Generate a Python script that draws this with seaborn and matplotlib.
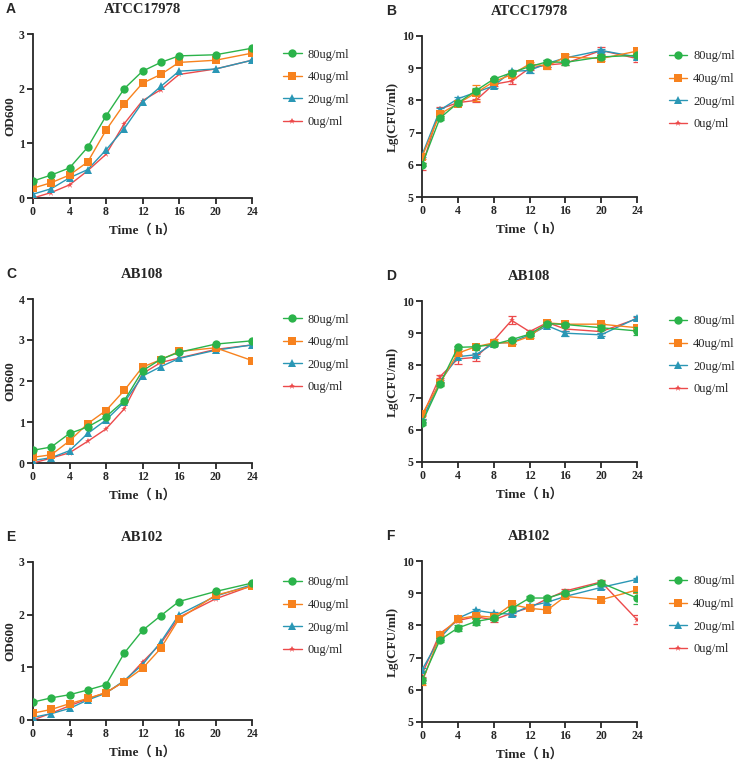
import numpy as np
import pandas as pd
import seaborn as sns
import matplotlib.pyplot as plt


hours = [0, 2, 4, 6, 8, 10, 12, 14, 16, 20, 24]
doses = ["80ug/ml", "40ug/ml", "20ug/ml", "0ug/ml"]

# A: ATCC17978, OD600
A_80 = [0.31, 0.42, 0.55, 0.93, 1.50, 2.00, 2.32, 2.48, 2.60, 2.62, 2.74]
A_40 = [0.18, 0.28, 0.42, 0.66, 1.24, 1.72, 2.10, 2.26, 2.48, 2.52, 2.65]
A_20 = [0.07, 0.17, 0.37, 0.52, 0.88, 1.27, 1.75, 2.04, 2.32, 2.36, 2.52]
A_0 = [0.00, 0.10, 0.24, 0.50, 0.80, 1.36, 1.78, 1.98, 2.26, 2.36, 2.52]

# B: ATCC17978, Lg(CFU/ml)
B_80 = [6.00, 7.45, 7.92, 8.30, 8.66, 8.86, 9.05, 9.20, 9.18, 9.35, 9.40]
B_40 = [6.25, 7.58, 7.90, 8.23, 8.58, 8.80, 9.13, 9.07, 9.35, 9.30, 9.53]
B_20 = [6.30, 7.70, 8.05, 8.25, 8.45, 8.90, 8.93, 9.15, 9.32, 9.55, 9.35]
B_0 = [5.95, 7.73, 7.93, 8.00, 8.50, 8.60, 9.00, 9.10, 9.15, 9.55, 9.30]
B_80_err = [0.05, 0.05, 0.05, 0.08, 0.05, 0.05, 0.05, 0.05, 0.08, 0.05, 0.05]
B_40_err = [0.08, 0.05, 0.05, 0.25, 0.05, 0.08, 0.05, 0.10, 0.10, 0.08, 0.05]
B_20_err = [0.05, 0.05, 0.05, 0.05, 0.05, 0.05, 0.08, 0.10, 0.05, 0.05, 0.05]
B_0_err = [0.10, 0.05, 0.05, 0.05, 0.05, 0.10, 0.05, 0.05, 0.05, 0.10, 0.12]

# C: AB108, OD600
C_80 = [0.31, 0.39, 0.72, 0.88, 1.13, 1.52, 2.25, 2.53, 2.70, 2.90, 2.98]
C_40 = [0.14, 0.20, 0.54, 0.96, 1.28, 1.77, 2.34, 2.52, 2.72, 2.81, 2.50]
C_20 = [0.06, 0.13, 0.30, 0.72, 1.05, 1.48, 2.12, 2.35, 2.55, 2.75, 2.88]
C_0 = [0.00, 0.12, 0.25, 0.53, 0.83, 1.32, 2.18, 2.45, 2.56, 2.77, 2.88]

# D: AB108, Lg(CFU/ml)
D_80 = [6.22, 7.42, 8.56, 8.58, 8.65, 8.80, 8.97, 9.30, 9.27, 9.17, 9.07]
D_40 = [6.48, 7.45, 8.38, 8.58, 8.70, 8.70, 8.90, 9.32, 9.28, 9.28, 9.17]
D_20 = [6.30, 7.50, 8.27, 8.33, 8.68, 8.72, 8.95, 9.23, 9.00, 8.95, 9.47]
D_0 = [6.40, 7.65, 8.20, 8.25, 8.77, 9.40, 9.05, 9.33, 9.13, 9.05, 9.45]
D_80_err = [0.08, 0.05, 0.05, 0.05, 0.05, 0.05, 0.05, 0.05, 0.05, 0.08, 0.12]
D_40_err = [0.05, 0.05, 0.05, 0.05, 0.05, 0.05, 0.05, 0.05, 0.05, 0.05, 0.05]
D_20_err = [0.05, 0.05, 0.05, 0.05, 0.05, 0.05, 0.05, 0.05, 0.08, 0.05, 0.05]
D_0_err = [0.05, 0.05, 0.15, 0.10, 0.05, 0.12, 0.05, 0.05, 0.05, 0.05, 0.05]

# E: AB102, OD600
E_80 = [0.34, 0.42, 0.48, 0.57, 0.67, 1.27, 1.70, 1.98, 2.25, 2.44, 2.60]
E_40 = [0.13, 0.20, 0.31, 0.41, 0.52, 0.73, 0.98, 1.36, 1.92, 2.37, 2.54]
E_20 = [0.05, 0.12, 0.22, 0.38, 0.51, 0.75, 1.05, 1.48, 2.00, 2.35, 2.57]
E_0 = [0.00, 0.13, 0.27, 0.40, 0.52, 0.73, 1.10, 1.45, 1.95, 2.30, 2.55]

# F: AB102, Lg(CFU/ml)
F_80 = [6.30, 7.55, 7.92, 8.12, 8.22, 8.52, 8.85, 8.85, 9.02, 9.32, 8.85]
F_40 = [6.23, 7.70, 8.20, 8.30, 8.25, 8.65, 8.53, 8.48, 8.90, 8.80, 9.10]
F_20 = [6.62, 7.60, 8.22, 8.47, 8.38, 8.35, 8.60, 8.72, 8.90, 9.18, 9.43]
F_0 = [6.48, 7.75, 8.15, 8.27, 8.17, 8.38, 8.55, 8.83, 9.07, 9.35, 8.18]
F_80_err = [0.08, 0.05, 0.10, 0.10, 0.05, 0.05, 0.05, 0.05, 0.05, 0.05, 0.20]
F_40_err = [0.08, 0.05, 0.05, 0.05, 0.05, 0.05, 0.05, 0.05, 0.05, 0.05, 0.05]
F_20_err = [0.05, 0.05, 0.08, 0.05, 0.05, 0.05, 0.08, 0.05, 0.05, 0.05, 0.05]
F_0_err = [0.08, 0.05, 0.05, 0.05, 0.05, 0.05, 0.05, 0.05, 0.05, 0.05, 0.15]


colors = ["#2bb34a", "#f7821e", "#2a97b5", "#ec4a4b"]
markers = ["o", "s", "^", "*"]
msizes = [6, 6, 6, 5]

sns.set_style("ticks")
plt.rcParams["font.family"] = ["Liberation Serif", "Noto Sans CJK SC"]
plt.rcParams["font.weight"] = "bold"
plt.rcParams["axes.labelweight"] = "bold"
plt.rcParams["axes.titleweight"] = "bold"

fig = plt.figure(figsize=(7.36, 7.64), dpi=100)
W, H = 736, 764


def make_ax(left, top, right, bottom):
    return fig.add_axes([left / W, 1 - bottom / H, (right - left) / W, (bottom - top) / H])


panels = [
    ("A", "ATCC17978", "OD600", [A_80, A_40, A_20, A_0], None, (33, 34, 252, 198), (0, 3)),
    ("B", "ATCC17978", "Lg(CFU/ml)", [B_80, B_40, B_20, B_0], [B_80_err, B_40_err, B_20_err, B_0_err], (422, 36, 637, 197), (5, 10)),
    ("C", "AB108", "OD600", [C_80, C_40, C_20, C_0], None, (33, 299, 252, 463), (0, 4)),
    ("D", "AB108", "Lg(CFU/ml)", [D_80, D_40, D_20, D_0], [D_80_err, D_40_err, D_20_err, D_0_err], (422, 301, 637, 462), (5, 10)),
    ("E", "AB102", "OD600", [E_80, E_40, E_20, E_0], None, (33, 562, 252, 720), (0, 3)),
    ("F", "AB102", "Lg(CFU/ml)", [F_80, F_40, F_20, F_0], [F_80_err, F_40_err, F_20_err, F_0_err], (422, 561, 637, 722), (5, 10)),
]

for letter, title, ylabel, series, errs, box, ylim in panels:
    ax = make_ax(*box)
    rows = []
    for dose, vals in zip(doses, series):
        for h, v in zip(hours, vals):
            rows.append({"Time": h, "val": v, "dose": dose})
    df = pd.DataFrame(rows)
    # lowest dose first so the 80 series lands on top
    for i in [3, 2, 1, 0]:
        sub = df[df["dose"] == doses[i]]
        if errs is not None:
            ax.errorbar(hours, series[i], yerr=errs[i], fmt="none", ecolor=colors[i],
                        elinewidth=0.9, capsize=3, capthick=0.9, zorder=2 + (3 - i))
        sns.lineplot(data=sub, x="Time", y="val", ax=ax, color=colors[i], marker=markers[i],
                     markersize=msizes[i], markeredgewidth=0, linewidth=1.0, label=doses[i],
                     zorder=3 + (3 - i))
    ax.set_xlim(0, 24)
    ax.set_ylim(*ylim)
    ax.set_xticks([0, 4, 8, 12, 16, 20, 24])
    ax.set_yticks(np.arange(ylim[0], ylim[1] + 1, 1))
    ax.tick_params(labelsize=8.5, width=1.3, length=4, direction="out", pad=2)
    for lab in ax.get_xticklabels() + ax.get_yticklabels():
        lab.set_fontweight("bold")
    for side in ["left", "bottom"]:
        ax.spines[side].set_linewidth(1.3)
    sns.despine(ax=ax)
    ax.set_title(title, fontsize=10.5, fontweight="bold", pad=15)
    ax.set_ylabel(ylabel, fontsize=9.5, fontweight="bold", labelpad=2)
    ax.set_xlabel("Time（ h）", fontsize=9.5, fontweight="bold", labelpad=4)
    handles, labels = ax.get_legend_handles_labels()
    order = [labels.index(d) for d in doses]
    bx = 1.09 if box[0] < 300 else 1.095
    ax.legend([handles[k] for k in order], doses, loc="upper left",
              bbox_to_anchor=(bx, 0.98), frameon=False,
              prop={"size": 9, "weight": "normal"},
              handlelength=1.5, labelspacing=0.85, handletextpad=0.45)
    dx = 27 if box[0] < 300 else 36
    fig.text((box[0] - dx) / W, 1 - (box[1] - 25) / H,
             letter, fontsize=10, fontweight="bold", family="Liberation Sans", va="center")

fig.savefig("out.png", dpi=100)
